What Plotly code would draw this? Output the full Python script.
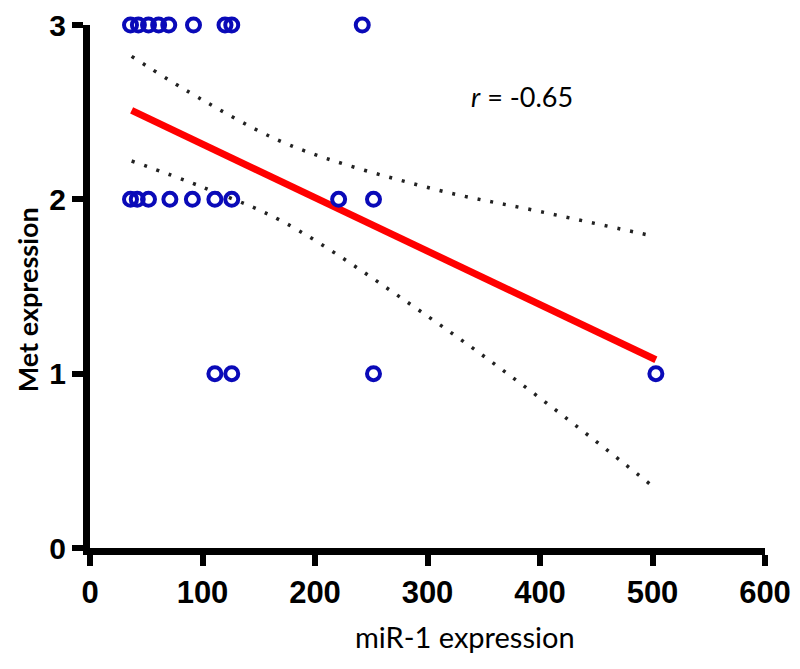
import plotly.graph_objects as go

# scatter data (miR-1 expression vs Met expression)
mir1 = [36, 43, 52, 61, 70, 92, 120, 126, 242,
        36, 42, 52, 71, 91, 111, 126, 221, 252,
        111, 126, 252, 503]
met = [3, 3, 3, 3, 3, 3, 3, 3, 3,
       2, 2, 2, 2, 2, 2, 2, 2, 2,
       1, 1, 1, 1]

# regression line
fit_x = [37, 503]
fit_y = [2.51, 1.08]

# 95% confidence band
ci_x_upper = [37, 100, 178, 305, 400, 500]
ci_upper = [2.82, 2.57, 2.31, 2.06, 1.93, 1.79]
ci_x_lower = [37, 100, 172, 300, 400, 501]
ci_lower = [2.22, 2.07, 1.87, 1.33, 0.86, 0.35]

x_ticks = [0, 100, 200, 300, 400, 500, 600]
y_ticks = [0, 1, 2, 3]

fig = go.Figure()
dot = dict(color="#222222", width=3.5, dash="3px,10px", shape="spline")
fig.add_trace(go.Scatter(x=ci_x_upper, y=ci_upper, mode="lines", line=dot,
                         hoverinfo="skip", cliponaxis=False))
fig.add_trace(go.Scatter(x=ci_x_lower, y=ci_lower, mode="lines", line=dot,
                         hoverinfo="skip", cliponaxis=False))
fig.add_trace(go.Scatter(x=fit_x, y=fit_y, mode="lines",
                         line=dict(color="#ff0000", width=7), cliponaxis=False))
fig.add_trace(go.Scatter(x=mir1, y=met, mode="markers", cliponaxis=False,
                         marker=dict(symbol="circle-open", size=13,
                                     color="#0a0ab8", line=dict(width=4, color="#0a0ab8"))))

xtickfont = dict(family="Liberation Sans, Arial", size=31, color="black", weight="bold")
ytickfont = dict(family="Liberation Sans, Arial", size=30, color="black", weight="bold")
fig.update_xaxes(range=[0, 600], tickvals=x_ticks, ticks="outside", ticklen=11,
                 tickwidth=6, tickcolor="black", showline=True, linewidth=7,
                 linecolor="black", showgrid=False, zeroline=False, tickfont=xtickfont,
                 ticklabeloverflow="allow", automargin=False)
fig.update_yaxes(range=[0, 3], tickvals=y_ticks, ticks="outside", ticklen=11,
                 tickwidth=6, tickcolor="black", showline=True, linewidth=7,
                 linecolor="black", showgrid=False, zeroline=False, tickfont=ytickfont,
                 ticklabeloverflow="allow", automargin=False)

fig.update_layout(
    width=792, height=661, showlegend=False,
    plot_bgcolor="white", paper_bgcolor="white",
    margin=dict(l=82, r=35, t=17, b=121),
    annotations=[
        dict(text="miR-1 expression", xref="paper", yref="paper", x=0.556, y=-0.170,
             xanchor="center", yanchor="middle", showarrow=False,
             font=dict(family="Lato, Open Sans", size=29, color="black")),
        dict(text="<b>Met expression</b>", xref="paper", yref="paper", x=-0.093, y=0.474,
             xanchor="center", yanchor="middle", showarrow=False, textangle=-90,
             font=dict(family="Lato, Open Sans", size=27, color="black")),
        dict(text="<i>r</i> = -0.65", xref="x", yref="y", x=384, y=2.59,
             xanchor="center", yanchor="middle", showarrow=False,
             font=dict(family="Lato, Open Sans", size=27, color="black")),
    ],
)
fig.write_html("out.html")
